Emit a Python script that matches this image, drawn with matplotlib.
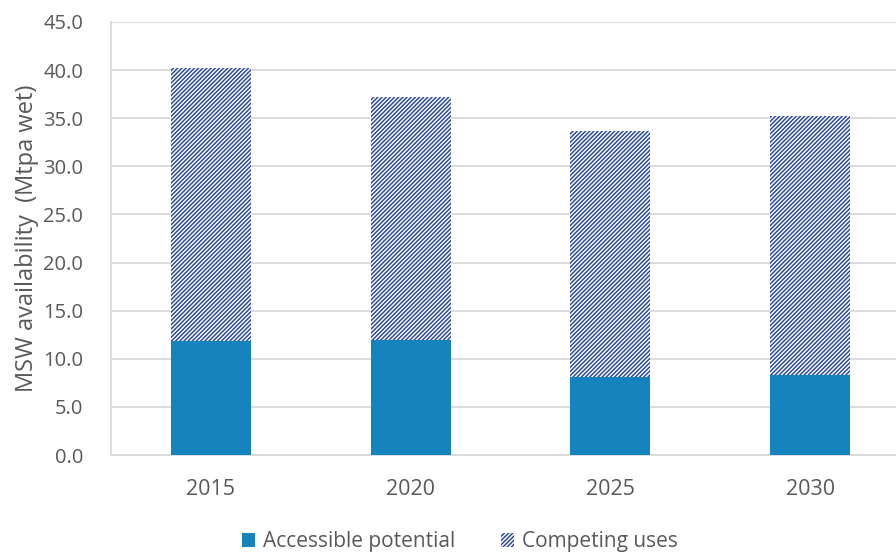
import numpy as np
import matplotlib
matplotlib.use('Agg')
from matplotlib import pyplot as plt

plt.rcParams['font.family'] = ['Open Sans', 'DejaVu Sans']
plt.rcParams['hatch.linewidth'] = 1.1

years = ['2015', '2020', '2025', '2030']
accessible = [11.8, 11.9, 8.1, 8.3]
total = [40.2, 37.2, 33.7, 35.2]
competing = [t - a for t, a in zip(total, accessible)]

blue = '#1583be'
hatch_blue = '#2e4c9c'
text_gray = '#595959'
grid_gray = '#d9d9d9'

fig = plt.figure(figsize=(8.96, 5.54), dpi=100)
ax = fig.add_axes([0.1239, 0.1787, 0.8917, 0.7816])

x = np.arange(len(years))
ax.bar(x, accessible, width=0.4, color=blue, label='Accessible potential', zorder=3)
ax.bar(x, competing, width=0.4, bottom=accessible, facecolor='white', edgecolor=hatch_blue,
       linewidth=0, hatch='////////', label='Competing uses', zorder=3)

ax.set_xlim(-0.5, 3.5)
ax.set_ylim(0, 45)
ax.set_yticks(np.arange(0, 45.1, 5))
ax.set_yticklabels([f'{v:.1f}' for v in np.arange(0, 45.1, 5)])
ax.set_xticks(x)
ax.set_xticklabels(years)
ax.tick_params(axis='both', length=0, colors=text_gray)
ax.tick_params(axis='y', pad=20, labelsize=14.5)
ax.tick_params(axis='x', pad=17, labelsize=15.5)

ax.grid(axis='y', color=grid_gray, lw=1.3, zorder=0)
for s in ['top', 'right']:
    ax.spines[s].set_visible(False)
ax.spines['left'].set_color(grid_gray)
ax.spines['bottom'].set_color(grid_gray)
ax.spines['left'].set_linewidth(1.3)
ax.spines['bottom'].set_linewidth(1.3)

ax.set_ylabel('MSW availability  (Mtpa wet)', fontsize=17, color=text_gray, labelpad=3)

fig.legend(loc='lower center', bbox_to_anchor=(0.513, -0.03), ncol=2, frameon=False,
           fontsize=15, labelcolor=text_gray, handlelength=0.65, handleheight=0.65,
           handletextpad=0.35, columnspacing=2.2)

plt.savefig('out.png', dpi=100)
